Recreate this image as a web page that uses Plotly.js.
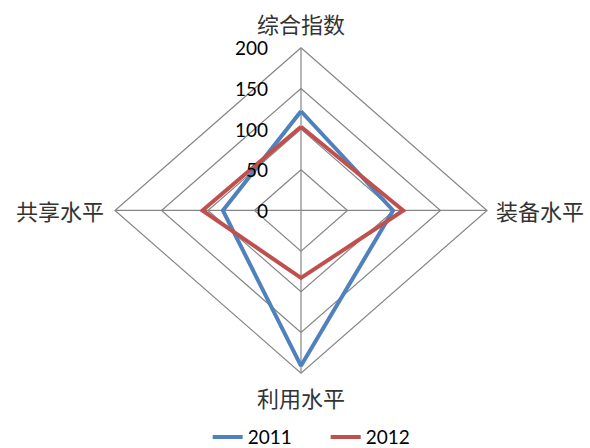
<!DOCTYPE html>
<html><head><meta charset="utf-8">
<script src="https://cdn.plot.ly/plotly-3.0.1.min.js"></script>
<style>html,body{margin:0;padding:0;background:#fff}</style>
</head><body><div id="chart" style="width:590px;height:448px"></div>
<script>
// ---- data ----
const categories = ['综合指数', '装备水平', '利用水平', '共享水平'];
const values2011 = [122, 99, 191, 84];
const values2012 = [103, 110, 83, 106];
const seriesNames = ['2011', '2012'];
const tickValues = [0, 50, 100, 150, 200];
const tickLabels = ['0', '50', '100', '150', '200'];
const radialMax = 200;

// ---- styling ----
const seriesColors = ['#4F81BD', '#C0504D'];
const gridColor = '#868686';
const n = categories.length;
function ang(i) { return i * 2 * Math.PI / n; }
function cx(r, i) { return Math.round(r * Math.sin(ang(i)) * 1e6) / 1e6; }
function cy(r, i) { return Math.round(r * Math.cos(ang(i)) * 1e6) / 1e6; }

const traces = [];
// grid polygons
const gx = [], gy = [];
tickValues.filter(t => t > 0).forEach(t => {
  for (let i = 0; i <= n; i++) { gx.push(cx(t, i % n)); gy.push(cy(t, i % n)); }
  gx.push(null); gy.push(null);
});
// spokes
for (let i = 0; i < n; i++) {
  gx.push(0, cx(radialMax, i), null); gy.push(0, cy(radialMax, i), null);
}
traces.push({x: gx, y: gy, mode: 'lines', line: {color: gridColor, width: 1.2},
  showlegend: false, hoverinfo: 'skip'});

[values2011, values2012].forEach((vals, s) => {
  const xs = [], ys = [];
  for (let i = 0; i <= n; i++) { xs.push(cx(vals[i % n], i % n)); ys.push(cy(vals[i % n], i % n)); }
  traces.push({x: xs, y: ys, mode: 'lines', name: seriesNames[s],
    line: {color: seriesColors[s], width: 4, join: 'miter'}, hoverinfo: 'skip'});
});

const annotations = [];
tickValues.forEach((t, k) => {
  annotations.push({x: -33.3, y: t, xref: 'x', yref: 'y', text: tickLabels[k],
    showarrow: false, xanchor: 'right', yanchor: 'middle',
    font: {family: 'Lato, sans-serif', size: 19, color: '#000'}});
});
const catFont = {family: '"Noto Sans CJK SC", sans-serif', size: 22, color: '#333333'};
categories.forEach((c, i) => {
  const a = {x: cx(radialMax, i), y: cy(radialMax, i), xref: 'x', yref: 'y', text: c,
    showarrow: false, font: catFont};
  const sx = Math.round(Math.sin(ang(i))), sy = Math.round(Math.cos(ang(i)));
  if (sy > 0) { a.yanchor = 'bottom'; a.xanchor = 'center'; a.yshift = 7; }
  else if (sy < 0) { a.yanchor = 'top'; a.xanchor = 'center'; a.yshift = -6; }
  else if (sx > 0) { a.xanchor = 'left'; a.yanchor = 'middle'; a.xshift = 7; }
  else { a.xanchor = 'right'; a.yanchor = 'middle'; a.xshift = -9; }
  annotations.push(a);
});

const layout = {
  width: 590, height: 448,
  margin: {l: 0, r: 0, t: 0, b: 0, autoexpand: false},
  paper_bgcolor: '#fff', plot_bgcolor: '#fff',
  xaxis: {range: [-323.66, 310.75], visible: false, fixedrange: true},
  yaxis: {range: [-292.1, 258.8], visible: false, fixedrange: true},
  showlegend: true,
  legend: {orientation: 'h', x: 0.352, xanchor: 'left', y: -0.018, yanchor: 'bottom',
    entrywidth: 73, entrywidthmode: 'pixels',
    font: {family: 'Lato, sans-serif', size: 19, color: '#000'}, bgcolor: 'rgba(0,0,0,0)'},
  annotations: annotations
};
Plotly.newPlot('chart', traces, layout, {staticPlot: true, displayModeBar: false});
</script>
</body></html>
